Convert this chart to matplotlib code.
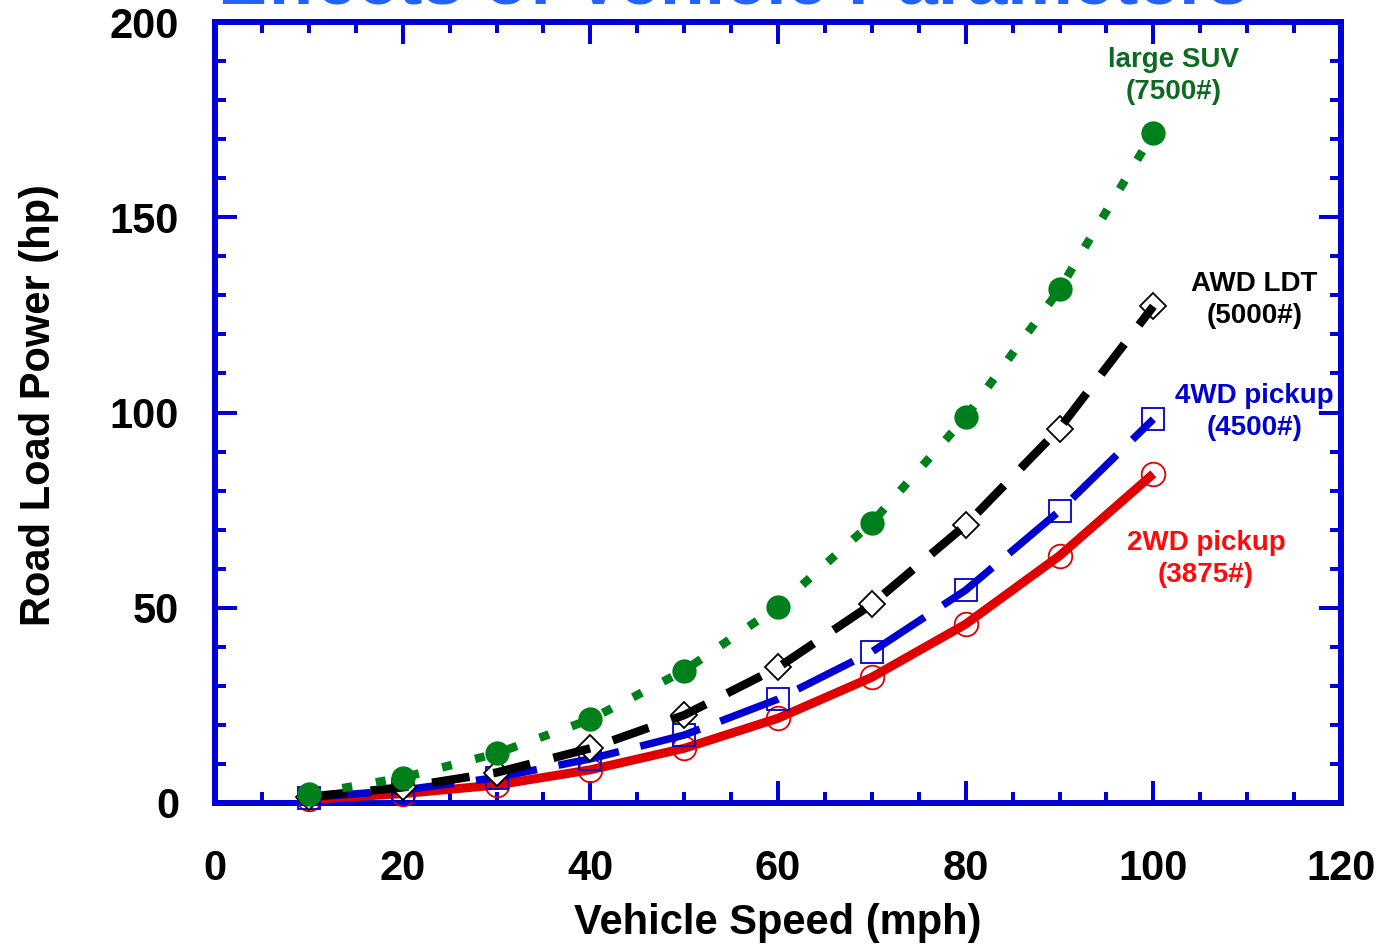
import matplotlib
matplotlib.use("Agg")
import matplotlib.pyplot as plt
from matplotlib.ticker import MultipleLocator

plt.rcParams['font.family'] = ['Liberation Sans', 'DejaVu Sans']
plt.rcParams['font.weight'] = 'bold'
plt.rcParams['lines.scale_dashes'] = False

speed = [10, 20, 30, 40, 50, 60, 70, 80, 90, 100]
suv_large = [2.3, 6.5, 12.7, 21.4, 33.9, 50.3, 71.8, 98.8, 131.5, 171.6]
awd_ldt = [1.6, 4.0, 7.8, 14.0, 22.5, 34.7, 50.9, 71.2, 95.9, 127.2]
pickup_4wd = [1.4, 3.3, 6.5, 11.3, 17.4, 26.6, 38.7, 54.5, 74.8, 98.3]
pickup_2wd = [0.9, 2.4, 4.6, 8.5, 14.0, 21.7, 32.2, 45.8, 63.3, 84.3]

title = "Effects of Vehicle Parameters"
xlabel = "Vehicle Speed (mph)"
ylabel = "Road Load Power (hp)"

AX = '#0000D8'
GREEN = '#00801A'
GREEN_TXT = '#0E6A22'
BLACK = '#000000'
BLUE = '#0000D0'
RED = '#E00000'
RED_TXT = '#FF0A0A'

fig = plt.figure(figsize=(13.83, 9.44), dpi=100)
ax = fig.add_axes([215/1383, 1-803/944, (1341-215)/1383, (803-22)/944])

px = 0.72  # points per pixel

# red: solid
ax.plot(speed, pickup_2wd, ls='none', marker='o', ms=17, mfc='none', mec=RED, mew=1.3,
        zorder=3, clip_on=False)
ax.plot(speed, pickup_2wd, color=RED, lw=9*px, solid_capstyle='butt', zorder=4, clip_on=False)

# blue: dashed
ax.plot(speed, pickup_4wd, ls='none', marker='s', ms=15.5, mfc='none', mec=BLUE, mew=1.3,
        zorder=5, clip_on=False)
ax.plot(speed, pickup_4wd, color=BLUE, lw=7.5*px, dashes=(62*px, 22*px), zorder=6, clip_on=False)

# black: dashed
ax.plot(speed, awd_ldt, ls='none', marker='D', ms=13.5, mfc='white', mec=BLACK, mew=1.3,
        zorder=7, clip_on=False)
ax.plot(speed, awd_ldt, color=BLACK, lw=8.5*px, dashes=(38*px, 24*px), zorder=8, clip_on=False)

# green: dotted
ax.plot(speed, suv_large, color=GREEN, lw=8.5*px, dashes=(10*px, 24*px), zorder=9, clip_on=False)
ax.plot(speed, suv_large, ls='none', marker='o', ms=17.5, mfc=GREEN, mec=GREEN, mew=0,
        zorder=10, clip_on=False)

ax.set_xlim(0, 120)
ax.set_ylim(0, 200)
ax.xaxis.set_major_locator(MultipleLocator(20))
ax.xaxis.set_minor_locator(MultipleLocator(5))
ax.yaxis.set_major_locator(MultipleLocator(50))
ax.yaxis.set_minor_locator(MultipleLocator(10))

for s in ax.spines.values():
    s.set_color(AX)
    s.set_linewidth(6*px)
    s.set_zorder(2.5)

ax.tick_params(which='both', direction='in', top=True, right=True, color=AX,
               width=4*px, labelsize=30, labelcolor='black')
ax.tick_params(which='major', length=22*px)
ax.tick_params(which='minor', length=11*px)
ax.tick_params(axis='y', pad=36*px)
ax.tick_params(axis='x', pad=46*px)
for lab in ax.get_xticklabels() + ax.get_yticklabels():
    lab.set_fontweight('bold')

ax.set_xlabel(xlabel, fontsize=30, fontweight='bold')
ax.set_ylabel(ylabel, fontsize=30, fontweight='bold')
ax.xaxis.set_label_coords(0.5, (803-903)/781)
ax.yaxis.set_label_coords((59-215)/1126, (803-405)/781)

fs = 20
ls_ = 1.3
ax.text(102.2, 186.2, "large SUV\n(7500#)", color=GREEN_TXT, fontsize=fs, fontweight='bold',
        ha='center', va='center', linespacing=ls_)
ax.text(110.8, 128.8, "AWD LDT\n(5000#)", color=BLACK, fontsize=fs, fontweight='bold',
        ha='center', va='center', linespacing=ls_)
ax.text(110.8, 100.1, "4WD pickup\n(4500#)", color=BLUE, fontsize=fs, fontweight='bold',
        ha='center', va='center', linespacing=ls_, zorder=12, clip_on=False)
ax.text(105.6, 62.5, "2WD pickup\n(3875#)", color=RED_TXT, fontsize=fs, fontweight='bold',
        ha='center', va='center', linespacing=ls_)

fig.text(218/1383, 1-3/944, title, color='#2262FF', fontsize=53, fontweight='bold',
         ha='left', va='baseline')

fig.savefig('out.png', dpi=100)
